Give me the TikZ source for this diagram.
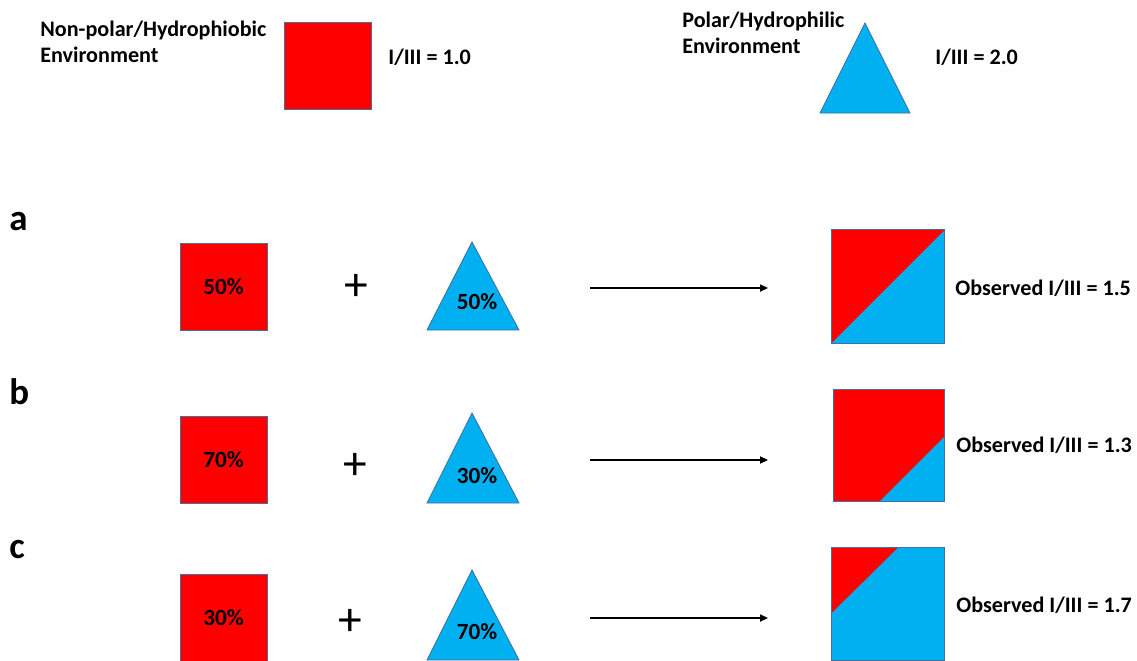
\documentclass[tikz,border=0pt]{standalone}
\usepackage{fontspec}
\setmainfont{Carlito}
\usetikzlibrary{arrows.meta}

\definecolor{hred}{RGB}{255,0,0}
\definecolor{hblue}{RGB}{0,176,240}
\definecolor{rim}{RGB}{65,113,156}

\begin{document}
\begin{tikzpicture}[x=0.02cm, y=-0.02cm,
        every node/.style={inner sep=0pt, font=\bfseries\fontsize{12.6}{14.4}\selectfont},
        sq/.style={draw=rim, fill=hred, line width=0.5pt, minimum size=1.74cm},
        mix/.style={draw=rim, line width=0.5pt, minimum size=2.27cm},
        tri/.style={draw=rim, fill=hblue, line width=0.5pt, line join=miter},
        pct/.style={font=\bfseries\fontsize{13.2}{15}\selectfont},
        tag/.style={font=\bfseries\fontsize{21}{24}\selectfont},
        plus/.style={font=\fontsize{27}{27}\selectfont},
        mixarrow/.style={line width=0.9pt, -{Triangle[length=4.5pt, width=4pt]}}]
        \useasboundingbox (0,0) rectangle (1137,660);

        % legend
        \node [anchor=north west, align=left] (np) at (40,21) {Non-polar/Hydrophiobic\\Environment};
        \node [sq] (npbox) at (328,66) {};
        \node [anchor=west] (npval) at (388,57) {I/III = 1.0};
        \node [anchor=north west, align=left] (pl) at (682,12) {Polar/Hydrophilic\\Environment};
        \draw [tri] (865,23) -- (910,113) -- (820,113) -- cycle;
        \node [anchor=west] (plval) at (935,57) {I/III = 2.0};

        % a: 50/50
        \node [tag, anchor=west] (a) at (9,222) {a};
        \node [sq, pct] (sqa) at (223.5,287) {50\%};
        \node [plus] (plusa) at (356,287) {+};
        \draw [tri] (472,242) -- (519,330) -- (427,330) -- cycle;
        \node [pct] (tria) at (477,302) {50\%};
        \coordinate (fa) at (590,288);
        \coordinate (ga) at (768,288);
        \draw [mixarrow] (fa) -- (ga);
        \node [mix, fill=hblue, path picture={
                \fill [hred] (path picture bounding box.south west) -- (path picture bounding box.north west)
                        -- (path picture bounding box.north east) -- cycle;}] (mixa) at (888,286.5) {};
        \node [anchor=west] (obsa) at (955,288) {Observed I/III = 1.5};

        % b: 70/30
        \node [tag, anchor=west] (b) at (9,392) {b};
        \node [sq, pct] (sqb) at (223.5,460) {70\%};
        \node [plus] (plusb) at (355,466) {+};
        \draw [tri] (472,413) -- (519,503) -- (427,503) -- cycle;
        \node [pct] (trib) at (477,476) {30\%};
        \coordinate (fb) at (590,460);
        \coordinate (gb) at (768,460);
        \draw [mixarrow] (fb) -- (gb);
        \node [mix, minimum size=2.23cm, fill=hred, path picture={
                \fill [hblue] (path picture bounding box.south east) -- ([yshift=1.3cm]path picture bounding box.south east)
                        -- ([xshift=-1.3cm]path picture bounding box.south east) -- cycle;}] (mixb) at (889,445.5) {};
        \node [anchor=west] (obsb) at (956,445) {Observed I/III = 1.3};

        % c: 30/70
        \node [tag, anchor=west] (c) at (9,550) {c};
        \node [sq, pct] (sqc) at (223.5,618) {30\%};
        \node [plus] (plusc) at (350,622) {+};
        \draw [tri] (472,570) -- (519,660) -- (427,660) -- cycle;
        \node [pct] (tric) at (477,632) {70\%};
        \coordinate (fc) at (590,618);
        \coordinate (gc) at (768,618);
        \draw [mixarrow] (fc) -- (gc);
        \node [mix, fill=hblue, path picture={
                \fill [hred] (path picture bounding box.north west) -- ([xshift=1.34cm]path picture bounding box.north west)
                        -- ([yshift=-1.32cm]path picture bounding box.north west) -- cycle;}] (mixc) at (888,604) {};
        \node [anchor=west] (obsc) at (956,605) {Observed I/III = 1.7};
\end{tikzpicture}
\end{document}
